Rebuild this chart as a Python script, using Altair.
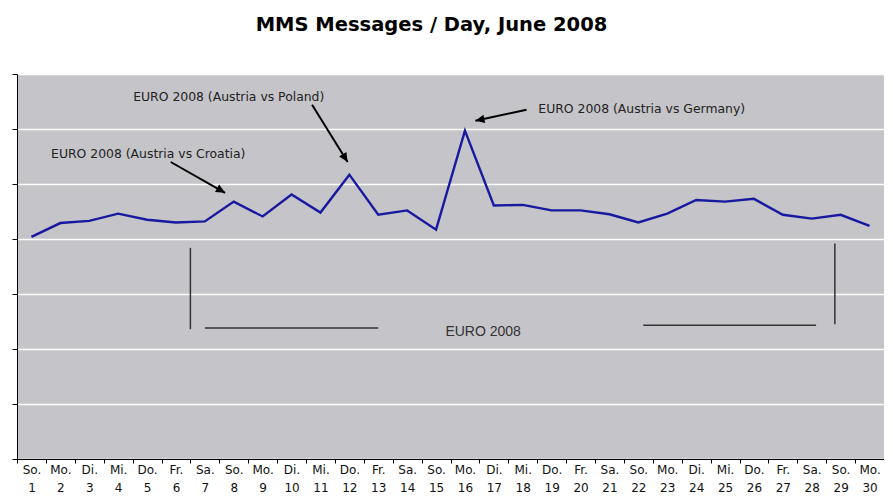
import math
import altair as alt
import pandas as pd

# ---- data ----
days = list(range(1, 31))
weekday = ["So.", "Mo.", "Di.", "Mi.", "Do.", "Fr.", "Sa."] * 5
weekday = weekday[:30]
values = [4.04, 4.29, 4.33, 4.46, 4.35, 4.30, 4.32, 4.68, 4.41, 4.81,
          4.48, 5.17, 4.44, 4.52, 4.17, 5.97, 4.61, 4.62, 4.52, 4.52,
          4.45, 4.30, 4.46, 4.71, 4.68, 4.73, 4.44, 4.37, 4.44, 4.24]

ann_text = ["EURO 2008 (Austria vs Croatia)", "EURO 2008 (Austria vs Poland)",
            "EURO 2008 (Austria vs Germany)"]
ann_day = [1.68, 4.52, 18.54]
ann_val = [5.55, 6.58, 6.37]
arrow_from_day = [5.82, 10.71, 18.13]
arrow_from_val = [5.40, 6.44, 6.35]
arrow_to_day = [7.70, 11.94, 16.36]
arrow_to_val = [4.84, 5.40, 6.15]

bracket_x = [6.5, 7.0, 22.17, 28.8]
bracket_x2 = [6.5, 13.0, 28.15, 28.8]
bracket_y = [3.84, 2.38, 2.43, 3.92]
bracket_y2 = [2.36, 2.38, 2.43, 2.45]
period_label = ["EURO 2008"]
period_day = [16.63]
period_val = [2.31]

W, H = 867, 385
XDOM = [0.5, 30.5]
YDOM = [0, 7]
pxd = W / (XDOM[1] - XDOM[0])
pxv = H / (YDOM[1] - YDOM[0])

df = pd.DataFrame({"day": days, "value": values})

angles = []
for x1, y1, x2, y2 in zip(arrow_from_day, arrow_from_val, arrow_to_day, arrow_to_val):
    dx = (x2 - x1) * pxd
    dy = -(y2 - y1) * pxv
    angles.append(math.degrees(math.atan2(dx, -dy)) % 360)

arrows = pd.DataFrame({"x": arrow_from_day, "y": arrow_from_val,
                       "x2": arrow_to_day, "y2": arrow_to_val, "angle": angles})
anns = pd.DataFrame({"t": ann_text, "x": ann_day, "y": ann_val})
brackets = pd.DataFrame({"x": bracket_x, "x2": bracket_x2, "y": bracket_y, "y2": bracket_y2})
period = pd.DataFrame({"t": period_label, "x": period_day, "y": period_val})

label_arr = "[" + ",".join("['%s','%d']" % (w, d) for w, d in zip(weekday, days)) + "]"
label_expr = label_arr + "[datum.value - 0.5] || ''"

xscale = alt.Scale(domain=XDOM, nice=False, zero=False)
yscale = alt.Scale(domain=YDOM, nice=False, zero=True)

xaxis = alt.Axis(values=[i + 0.5 for i in range(31)], tickCount=40, labelExpr=label_expr,
                 title=None, grid=False, domainColor="black", tickColor="black",
                 tickSize=4, labelOffset=pxd / 2, labelAlign="center", labelBaseline="top",
                 labelPadding=1, labelLineHeight=18, labelFontSize=12,
                 labelFont="DejaVu Sans", labelColor="#111", labelOverlap=False,
                 labelFlush=False, labelBound=False)
yaxis = alt.Axis(values=list(range(8)), tickCount=10, labels=False, title=None, grid=True,
                 gridColor="white", gridWidth=1.6, domainColor="black",
                 tickColor="black", tickSize=5)

line = alt.Chart(df).mark_line(color="#1818a0", strokeWidth=2.4).encode(
    x=alt.X("day:Q", scale=xscale, axis=xaxis),
    y=alt.Y("value:Q", scale=yscale, axis=yaxis),
)

arrow_lines = alt.Chart(arrows).mark_rule(color="black", strokeWidth=2).encode(
    x="x:Q", y="y:Q", x2="x2:Q", y2="y2:Q")
arrow_heads = alt.Chart(arrows).mark_point(
    shape="M0,0 L0.6,1.3 L-0.6,1.3 Z", filled=True, color="black", opacity=1, size=200
).encode(x="x2:Q", y="y2:Q", angle=alt.Angle("angle:Q", scale=None))

ann_text_layer = alt.Chart(anns).mark_text(
    align="left", baseline="middle", font="DejaVu Sans", fontSize=12.4, color="#222"
).encode(x="x:Q", y="y:Q", text="t:N")

bracket_layer = alt.Chart(brackets).mark_rule(color="#333", strokeWidth=1.5).encode(
    x="x:Q", y="y:Q", x2="x2:Q", y2="y2:Q")

period_layer = alt.Chart(period).mark_text(
    align="center", baseline="middle", font="Liberation Sans", fontSize=14, color="#333"
).encode(x="x:Q", y="y:Q", text="t:N")

chart = alt.layer(line, bracket_layer, period_layer, arrow_lines, arrow_heads,
                  ann_text_layer).properties(
    width=W, height=H,
    background="white",
    title=alt.TitleParams("MMS Messages / Day, June 2008", font="DejaVu Sans",
                          fontSize=19.5, fontWeight="bold", color="black",
                          anchor="middle", offset=38, dx=-19),
    autosize=alt.AutoSizeParams(type="none"),
    padding={"left": 9, "top": 66, "right": 0, "bottom": 35},
).configure_view(fill="#c5c4c8", stroke=None)

chart.save("out.html", embed_options={"renderer": "svg", "actions": False})
